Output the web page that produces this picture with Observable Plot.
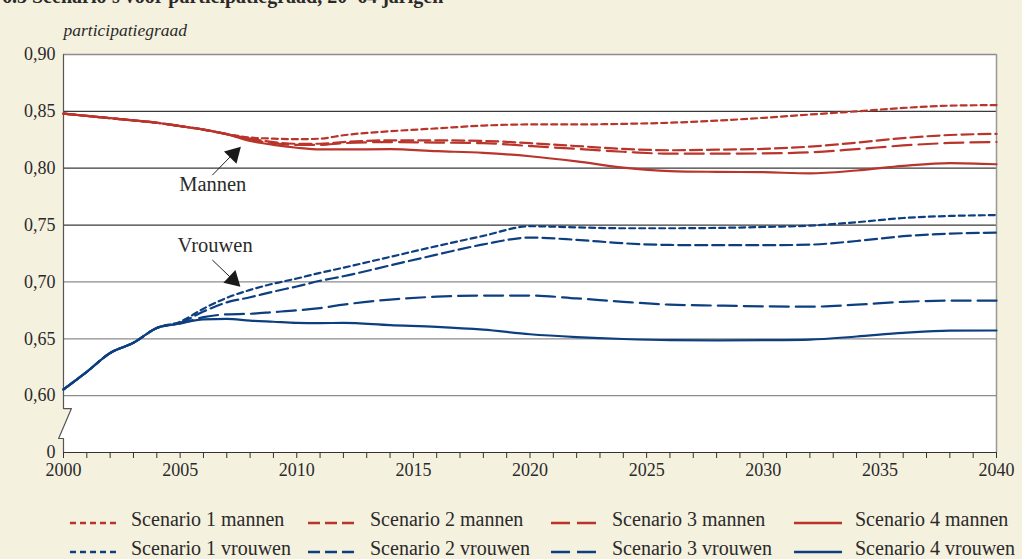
<!DOCTYPE html>
<html>
<head>
<meta charset="utf-8">
<script src="https://cdn.jsdelivr.net/npm/d3@7"></script>
<script src="https://cdn.jsdelivr.net/npm/@observablehq/plot@0.6"></script>
<style>
  html, body { margin: 0; padding: 0; background: #f5f1df; width: 1022px; height: 559px; overflow: hidden; }
  #wrap { position: relative; width: 1022px; height: 559px; font-family: "Liberation Serif", serif; color: #2a2a2a; }
  #title { position: absolute; left: 2px; top: -14px; font-size: 20px; line-height: 20px; font-weight: bold; white-space: nowrap; }
  #chart { position: absolute; left: 0; top: 0; }
  .leg { position: absolute; font-size: 20px; line-height: 20px; white-space: nowrap; }
  .sw { position: absolute; }
</style>
</head>
<body>
<div id="wrap">
  <div id="chart"></div>
  <div id="title">6.3 Scenario's voor participatiegraad, 20–64 jarigen</div>
</div>
<script>
// ---- data ----
const years = [2000,2001,2002,2003,2004,2005,2006,2007,2008,2009,2010,2011,2012,2014,2016,2018,2020,2022,2024,2026,2028,2030,2032,2034,2036,2038,2040];

const mannen1 = [0.848,0.846,0.844,0.842,0.840,0.837,0.834,0.830,0.827,0.826,0.8255,0.826,0.829,0.8325,0.835,0.8375,0.8385,0.8385,0.839,0.840,0.8418,0.8443,0.8472,0.850,0.853,0.855,0.8555];
const mannen2 = [0.848,0.846,0.844,0.842,0.840,0.837,0.834,0.830,0.826,0.823,0.8215,0.8215,0.823,0.8245,0.8245,0.824,0.822,0.8195,0.817,0.8158,0.8163,0.817,0.819,0.8225,0.8265,0.8292,0.8302];
const mannen3 = [0.848,0.846,0.844,0.842,0.840,0.837,0.834,0.830,0.825,0.822,0.8205,0.8205,0.822,0.823,0.8225,0.822,0.8195,0.817,0.8145,0.8128,0.8128,0.813,0.814,0.8168,0.820,0.8222,0.823];
const mannen4 = [0.848,0.846,0.844,0.842,0.840,0.837,0.834,0.830,0.824,0.8205,0.818,0.8165,0.8165,0.8167,0.815,0.8135,0.8105,0.806,0.8005,0.7975,0.7968,0.7965,0.7955,0.798,0.802,0.8045,0.8035];

const vrouwen1 = [0.6055,0.621,0.6375,0.6465,0.6595,0.665,0.6765,0.686,0.693,0.6985,0.703,0.708,0.7125,0.722,0.7315,0.7405,0.749,0.748,0.7472,0.7472,0.7475,0.7483,0.7495,0.7525,0.7562,0.758,0.7588];
const vrouwen2 = [0.6055,0.621,0.6375,0.6465,0.6595,0.664,0.674,0.682,0.6865,0.6915,0.696,0.701,0.705,0.7145,0.724,0.733,0.739,0.737,0.734,0.7325,0.7323,0.7323,0.7328,0.736,0.7402,0.7425,0.7433];
const vrouwen3 = [0.6055,0.621,0.6375,0.6465,0.6595,0.6635,0.669,0.6715,0.672,0.6735,0.675,0.677,0.680,0.6845,0.687,0.688,0.688,0.6855,0.6825,0.680,0.6792,0.6785,0.6782,0.680,0.6825,0.6835,0.6835];
const vrouwen4 = [0.6055,0.621,0.6375,0.6465,0.6595,0.6635,0.667,0.6675,0.666,0.665,0.664,0.6638,0.664,0.662,0.6605,0.658,0.654,0.6515,0.6498,0.6488,0.6486,0.6488,0.6493,0.652,0.6552,0.6572,0.6573];

const seriesNames = ["Scenario 1 mannen","Scenario 2 mannen","Scenario 3 mannen","Scenario 4 mannen",
                     "Scenario 1 vrouwen","Scenario 2 vrouwen","Scenario 3 vrouwen","Scenario 4 vrouwen"];
const seriesValues = [mannen1, mannen2, mannen3, mannen4, vrouwen1, vrouwen2, vrouwen3, vrouwen4];

const yTicks = [0.55, 0.60, 0.65, 0.70, 0.75, 0.80, 0.85, 0.90];
const yTickLabels = ["0", "0,60", "0,65", "0,70", "0,75", "0,80", "0,85", "0,90"];
const xTicks = d3.range(2000, 2041);
const xLabelYears = [2000, 2005, 2010, 2015, 2020, 2025, 2030, 2035, 2040];

const annotations = [
  {label: "Mannen", tx: 2006.4, ty: 0.786, x1: 2006.38, y1: 0.7939, x2: 2007.28, y2: 0.8128, ax: 2007.30, ay: 0.8125, rot: 44.6},
  {label: "Vrouwen", tx: 2006.5, ty: 0.7325, x1: 2006.38, y1: 0.7193, x2: 2007.26, y2: 0.7020, ax: 2007.27, ay: 0.7018, rot: 133.5}
];

// axis break outline (value-space): left edge of plot with zig-zag
const breakOutline = [
  {y: 0.90, x: 2000}, {y: 0.5886, x: 2000}, {y: 0.5886, x: 2000.34},
  {y: 0.5623, x: 1999.79}, {y: 0.5623, x: 2000}, {y: 0.55, x: 2000}
];

// ---- styles ----
const RED = "#b9342a", BLUE = "#0d3f80";
const colorOf = i => i < 4 ? RED : BLUE;
const dashes = ["6,4", "12,5", "19,7", null];
const dashOf = i => dashes[i % 4];

const rows = [];
seriesValues.forEach((vals, i) => vals.forEach((v, j) => rows.push({series: seriesNames[i], year: years[j], value: v})));

const fmtY = d => yTickLabels[yTicks.indexOf(d)] ?? "";

const marks = [
  Plot.areaX(breakOutline, {y: "y", x1: "x", x2: () => 2040, fill: "white", curve: "linear"}),
  Plot.ruleY(yTicks.slice(1), {stroke: d => (d >= 0.75 && d <= 0.85) ? "#3a3a3a" : "#8c8c8c", strokeWidth: 1.3}),
  Plot.line(breakOutline, {x: "x", y: "y", stroke: "#555", strokeWidth: 1.2}),
  Plot.ruleX([2040], {stroke: "#999", strokeWidth: 1.5}),
  Plot.ruleY([0.55], {stroke: "#333", strokeWidth: 1.2}),
  Plot.axisY({ticks: yTicks, tickFormat: fmtY, tickSize: 0, tickPadding: 8, fontSize: 18, label: null}),
  Plot.axisX({ticks: xTicks, tickFormat: d => xLabelYears.includes(d) ? String(d) : "", tickSize: 6, tickPadding: 5, fontSize: 18, label: null, stroke: "#333"}),
  Plot.text(["participatiegraad"], {frameAnchor: "top-left", dy: -31, text: d => d, fontStyle: "italic", fontSize: 17.5, textAnchor: "start"})
];

seriesNames.forEach((name, i) => {
  marks.push(Plot.line(rows.filter(r => r.series === name), {
    x: "year", y: "value", stroke: colorOf(i), strokeWidth: 2.2,
    strokeDasharray: dashOf(i), curve: "monotone-x"
  }));
});

marks.push(
  Plot.link(annotations, {x1: "x1", y1: "y1", x2: "x2", y2: "y2", stroke: "#222", strokeWidth: 1}),
  Plot.dot(annotations, {x: "ax", y: "ay", symbol: "triangle", r: 6.5, fill: "#1a1a1a", stroke: "none", rotate: "rot"}),
  Plot.text(annotations, {x: "tx", y: "ty", text: "label", fontSize: 20.5, fill: "#2a2a2a"})
);

const chart = Plot.plot({
  width: 1022, height: 490,
  marginLeft: 63, marginRight: 26, marginTop: 54, marginBottom: 38,
  x: {domain: [2000, 2040]},
  y: {domain: [0.55, 0.90]},
  style: {background: "transparent", fontFamily: "Liberation Serif, serif", color: "#2a2a2a", overflow: "visible"},
  marks
});
document.getElementById("chart").appendChild(chart);

// ---- legend ----
const wrap = document.getElementById("wrap");
const colX = [70, 308, 551, 794];
const textX = [131, 370, 612, 855];
const rowY = [523, 552];
seriesNames.forEach((name, i) => {
  const col = i % 4, row = Math.floor(i / 4);
  const ns = "http://www.w3.org/2000/svg";
  const svg = document.createElementNS(ns, "svg");
  svg.setAttribute("width", 50); svg.setAttribute("height", 8);
  svg.setAttribute("class", "sw");
  svg.style.left = colX[col] + "px"; svg.style.top = (rowY[row] - 4) + "px";
  const ln = document.createElementNS(ns, "line");
  ln.setAttribute("x1", 0); ln.setAttribute("x2", 48); ln.setAttribute("y1", 4); ln.setAttribute("y2", 4);
  ln.setAttribute("stroke", colorOf(i)); ln.setAttribute("stroke-width", 2.5);
  if (dashOf(i)) ln.setAttribute("stroke-dasharray", dashOf(i));
  svg.appendChild(ln);
  wrap.appendChild(svg);
  const t = document.createElement("div");
  t.className = "leg";
  t.textContent = name;
  t.style.left = textX[col] + "px";
  t.style.top = (rowY[row] - 14) + "px";
  wrap.appendChild(t);
});
</script>
</body>
</html>
